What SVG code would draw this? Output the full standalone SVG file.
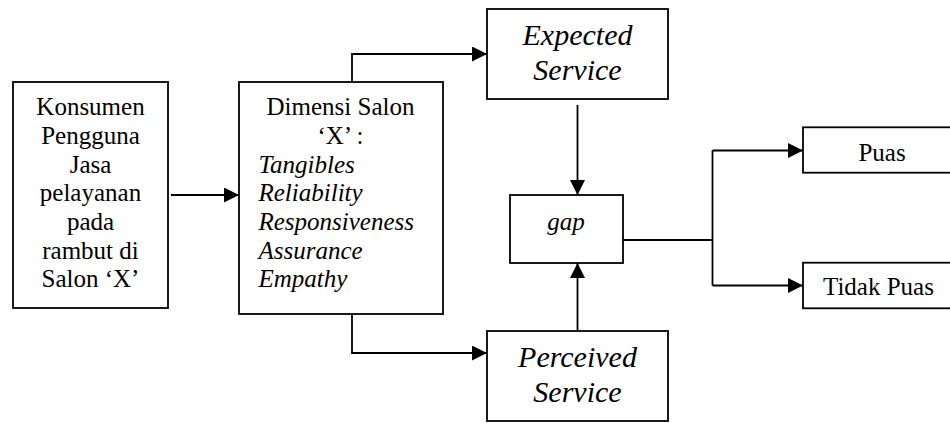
<svg xmlns="http://www.w3.org/2000/svg" width="950" height="423" viewBox="0 0 950 423">
<style>
.box{fill:#fff;stroke:#000;stroke-width:1.8}
.t{font-family:'Liberation Serif','Times New Roman',Tinos,'DejaVu Serif',serif;font-size:25px;fill:#000}
.c{text-anchor:middle}
.i{font-style:italic}
.big{font-size:30px}
.ln{fill:none;stroke:#000;stroke-width:1.8}
</style>
<defs>
<marker id="ah" markerUnits="userSpaceOnUse" markerWidth="16" markerHeight="16" refX="15" refY="7.5" orient="auto">
<path d="M0,0 L15,7.5 L0,15 Z" fill="#000"/>
</marker>
</defs>
<rect width="950" height="423" fill="#fff"/>
<g font-family="Liberation Serif, Times New Roman, DejaVu Serif, serif">
<g id="konsumen">
<rect class="box" x="13" y="82" width="155" height="226"/>
<text class="t c" x="90.5" y="115">Konsumen</text>
<text class="t c" x="90.5" y="144">Pengguna</text>
<text class="t c" x="90.5" y="172.7">Jasa</text>
<text class="t c" x="90.5" y="201">pelayanan</text>
<text class="t c" x="90.5" y="230">pada</text>
<text class="t c" x="90.5" y="258.7">rambut di</text>
<text class="t c" x="90.5" y="287.3">Salon ‘X’</text>
</g>
<g id="dimensi">
<rect class="box" x="239" y="82" width="204" height="232"/>
<text class="t c" x="340.5" y="115">Dimensi Salon</text>
<text class="t c" x="340.5" y="144">‘X’ :</text>
<text class="t i" x="258.5" y="172.7">Tangibles</text>
<text class="t i" x="258.5" y="201">Reliability</text>
<text class="t i" x="258.5" y="230">Responsiveness</text>
<text class="t i" x="258.5" y="258.7">Assurance</text>
<text class="t i" x="258.5" y="287.3">Empathy</text>
</g>
<g id="expected">
<rect class="box" x="487" y="9" width="181" height="90"/>
<text class="t i big c" x="577.5" y="45">Expected</text>
<text class="t i big c" x="577.5" y="80">Service</text>
</g>
<g id="perceived">
<rect class="box" x="487" y="331" width="181" height="90"/>
<text class="t i big c" x="577.5" y="367">Perceived</text>
<text class="t i big c" x="577.5" y="401.5">Service</text>
</g>
<g id="gap">
<rect class="box" x="510" y="195" width="113" height="68"/>
<text class="t i c" x="566" y="230">gap</text>
</g>
<g id="puas">
<rect class="box" x="803" y="127.3" width="160" height="45.4"/>
<text class="t c" x="882" y="160.5">Puas</text>
</g>
<g id="tidakpuas">
<rect class="box" x="803" y="262.7" width="160" height="45.6"/>
<text class="t c" x="878.5" y="295">Tidak Puas</text>
</g>
</g>
<g id="connectors">
<line class="ln" x1="171" y1="195" x2="239" y2="195" marker-end="url(#ah)"/>
<polyline class="ln" points="352,82 352,54 487,54" marker-end="url(#ah)"/>
<polyline class="ln" points="352,314 352,353 487,353" marker-end="url(#ah)"/>
<line class="ln" x1="577.5" y1="105" x2="577.5" y2="195" marker-end="url(#ah)"/>
<line class="ln" x1="577.5" y1="331" x2="577.5" y2="263" marker-end="url(#ah)"/>
<line class="ln" x1="623" y1="240" x2="712.5" y2="240"/>
<polyline class="ln" points="712.5,150.5 712.5,285.5"/>
<line class="ln" x1="712.5" y1="150.5" x2="803" y2="150.5" marker-end="url(#ah)"/>
<line class="ln" x1="712.5" y1="285.5" x2="803" y2="285.5" marker-end="url(#ah)"/>
</g>
</svg>
